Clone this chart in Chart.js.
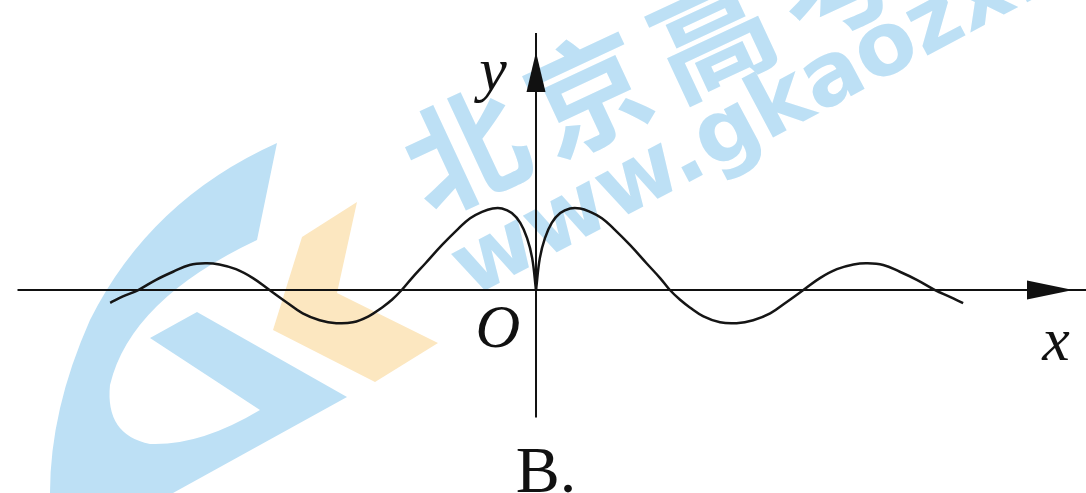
<!DOCTYPE html>
<html>
<head>
<meta charset="utf-8">
<script src="https://cdn.jsdelivr.net/npm/chart.js@4.4.1/dist/chart.umd.min.js"></script>
<style>
  html, body { margin: 0; padding: 0; background: #fff; }
  #wrap { width: 1086px; height: 493px; }
</style>
</head>
<body>
<div id="wrap"><canvas id="graph" width="1086" height="493"></canvas></div>
<script>
    // curve, x in radians-ish units (zeros near n*pi)
    const leftX = [-10.02, -9.72, -9.36, -8.94, -8.54, -8.15, -7.76, -7.45, -7.06, -6.66, -6.27,
                   -5.88, -5.49, -5.09, -4.70, -4.31, -3.94, -3.62, -3.39, -3.16, -2.92, -2.60,
                   -2.21, -1.82, -1.55, -1.27, -1.02, -0.80, -0.57, -0.37, -0.21, -0.09, 0];
    const leftY = [-0.30, -0.15, 0, 0.24, 0.43, 0.59, 0.63, 0.60, 0.49, 0.28, 0,
                   -0.28, -0.55, -0.71, -0.78, -0.76, -0.62, -0.41, -0.23, 0, 0.28, 0.63,
                   1.06, 1.45, 1.69, 1.84, 1.92, 1.92, 1.81, 1.58, 1.22, 0.75, 0];

    const rightX = [0, 0.09, 0.21, 0.37, 0.57, 0.80, 1.04, 1.27, 1.55, 1.82, 2.21, 2.60,
                    2.92, 3.15, 3.39, 3.62, 3.94, 4.33, 4.72, 5.11, 5.51, 5.90, 6.29,
                    6.68, 7.08, 7.47, 7.78, 8.17, 8.56, 8.96, 9.39, 9.74, 10.05];
    const rightY = [0, 0.75, 1.22, 1.58, 1.81, 1.92, 1.92, 1.84, 1.69, 1.45, 1.06, 0.63,
                    0.28, 0, -0.23, -0.41, -0.62, -0.76, -0.78, -0.71, -0.55, -0.28, 0,
                    0.28, 0.49, 0.60, 0.63, 0.59, 0.43, 0.24, 0, -0.16, -0.31];

    const xAxisSpan = [-12.2, 12.95];
    const yAxisSpan = [-3.0, 6.05];

    const axisLabels = { x: 'x', y: 'y', origin: 'O' };
    const caption = 'B.';
    const watermarkCn = ['北', '京', '高', '考'];
    const watermarkUrl = 'www.gkaozx.com';

    const toPoints = (xs, ys) => xs.map((x, i) => ({ x: x, y: ys[i] }));

    function poly(ctx, pts) {
      ctx.beginPath();
      ctx.moveTo(pts[0][0], pts[0][1]);
      for (let i = 1; i < pts.length; i++) ctx.lineTo(pts[i][0], pts[i][1]);
      ctx.closePath();
      ctx.fill();
    }

    const backdrop = {
      id: 'backdrop',
      beforeDraw(chart) {
        const ctx = chart.ctx;
        ctx.save();
        ctx.fillStyle = '#fff';
        ctx.fillRect(0, 0, chart.width, chart.height);

        // watermark logo
        ctx.fillStyle = '#bde0f5';
        ctx.beginPath();
        ctx.moveTo(277, 143);
        ctx.quadraticCurveTo(150, 200, 90, 320);
        ctx.quadraticCurveTo(50, 410, 50, 493);
        ctx.lineTo(173, 493);
        ctx.lineTo(347, 397);
        ctx.lineTo(197, 312);
        ctx.lineTo(150, 338);
        ctx.lineTo(260, 410);
        ctx.quadraticCurveTo(200, 446, 150, 444);
        ctx.quadraticCurveTo(105, 435, 110, 385);
        ctx.quadraticCurveTo(130, 300, 257, 240);
        ctx.closePath();
        ctx.fill();
        ctx.fillStyle = '#fce7c0';
        poly(ctx, [[302, 237], [357, 202], [337, 293], [438, 343], [375, 382], [273, 330]]);

        ctx.fillStyle = '#bde0f5';
        ctx.save();
        ctx.translate(465, 150);
        ctx.rotate(-25 * Math.PI / 180);
        ctx.font = 'bold 120px "Noto Sans CJK SC"';
        ctx.textAlign = 'center';
        ctx.textBaseline = 'middle';
        watermarkCn.forEach((ch, i) => ctx.fillText(ch, i * 136, 0));
        ctx.restore();

        ctx.save();
        ctx.translate(471, 298);
        ctx.rotate(-28 * Math.PI / 180);
        ctx.font = 'bold 88px "DejaVu Sans"';
        ctx.textAlign = 'left';
        ctx.textBaseline = 'alphabetic';
        ctx.fillText(watermarkUrl, 0, 0);
        ctx.restore();
        ctx.restore();
      },
      beforeDatasetsDraw(chart) {
        const ctx = chart.ctx;
        const xs = chart.scales.x, ys = chart.scales.y;
        const x0 = xs.getPixelForValue(0), y0 = ys.getPixelForValue(0);
        ctx.save();
        ctx.strokeStyle = '#111';
        ctx.fillStyle = '#111';
        ctx.lineWidth = 2;
        // x axis
        ctx.beginPath();
        ctx.moveTo(xs.getPixelForValue(xAxisSpan[0]), y0);
        ctx.lineTo(xs.getPixelForValue(xAxisSpan[1]), y0);
        ctx.stroke();
        // y axis
        ctx.beginPath();
        ctx.moveTo(x0, ys.getPixelForValue(yAxisSpan[0]));
        ctx.lineTo(x0, ys.getPixelForValue(yAxisSpan[1]));
        ctx.stroke();
        // arrows
        poly(ctx, [[1073, y0], [1027, y0 - 9.5], [1027, y0 + 9.5]]);
        poly(ctx, [[x0, 52], [x0 - 9.5, 92], [x0 + 9.5, 92]]);
        ctx.restore();
      },
      afterDraw(chart) {
        const ctx = chart.ctx;
        ctx.save();
        ctx.fillStyle = '#111';
        ctx.textAlign = 'center';
        ctx.textBaseline = 'alphabetic';
        ctx.font = 'italic 62px "Liberation Serif"';
        ctx.fillText(axisLabels.origin, 498, 347);
        ctx.fillText(axisLabels.y, 493, 90);
        ctx.fillText(axisLabels.x, 1056, 360);
        ctx.font = '66px "Liberation Serif"';
        ctx.fillText(caption, 546, 492);
        ctx.restore();
      }
    };

    const curveStyle = {
      showLine: true,
      borderColor: '#151515',
      borderWidth: 2.5,
      pointRadius: 0,
      tension: 0.4,
      fill: false
    };

    const ctx = document.getElementById('graph').getContext('2d');
    const chart = new Chart(ctx, {
      type: 'scatter',
      data: {
        datasets: [
          Object.assign({ label: 'left', data: toPoints(leftX, leftY) }, curveStyle),
          Object.assign({ label: 'right', data: toPoints(rightX, rightY) }, curveStyle)
        ]
      },
      options: {
        responsive: false,
        animation: false,
        devicePixelRatio: 1,
        layout: { padding: 0 },
        plugins: {
          legend: { display: false },
          tooltip: { enabled: false }
        },
        scales: {
          x: { type: 'linear', min: -12.612, max: 12.941, display: false },
          y: { type: 'linear', min: -4.776, max: 6.824, display: false }
        }
      },
      plugins: [backdrop]
    });
</script>
</body>
</html>
